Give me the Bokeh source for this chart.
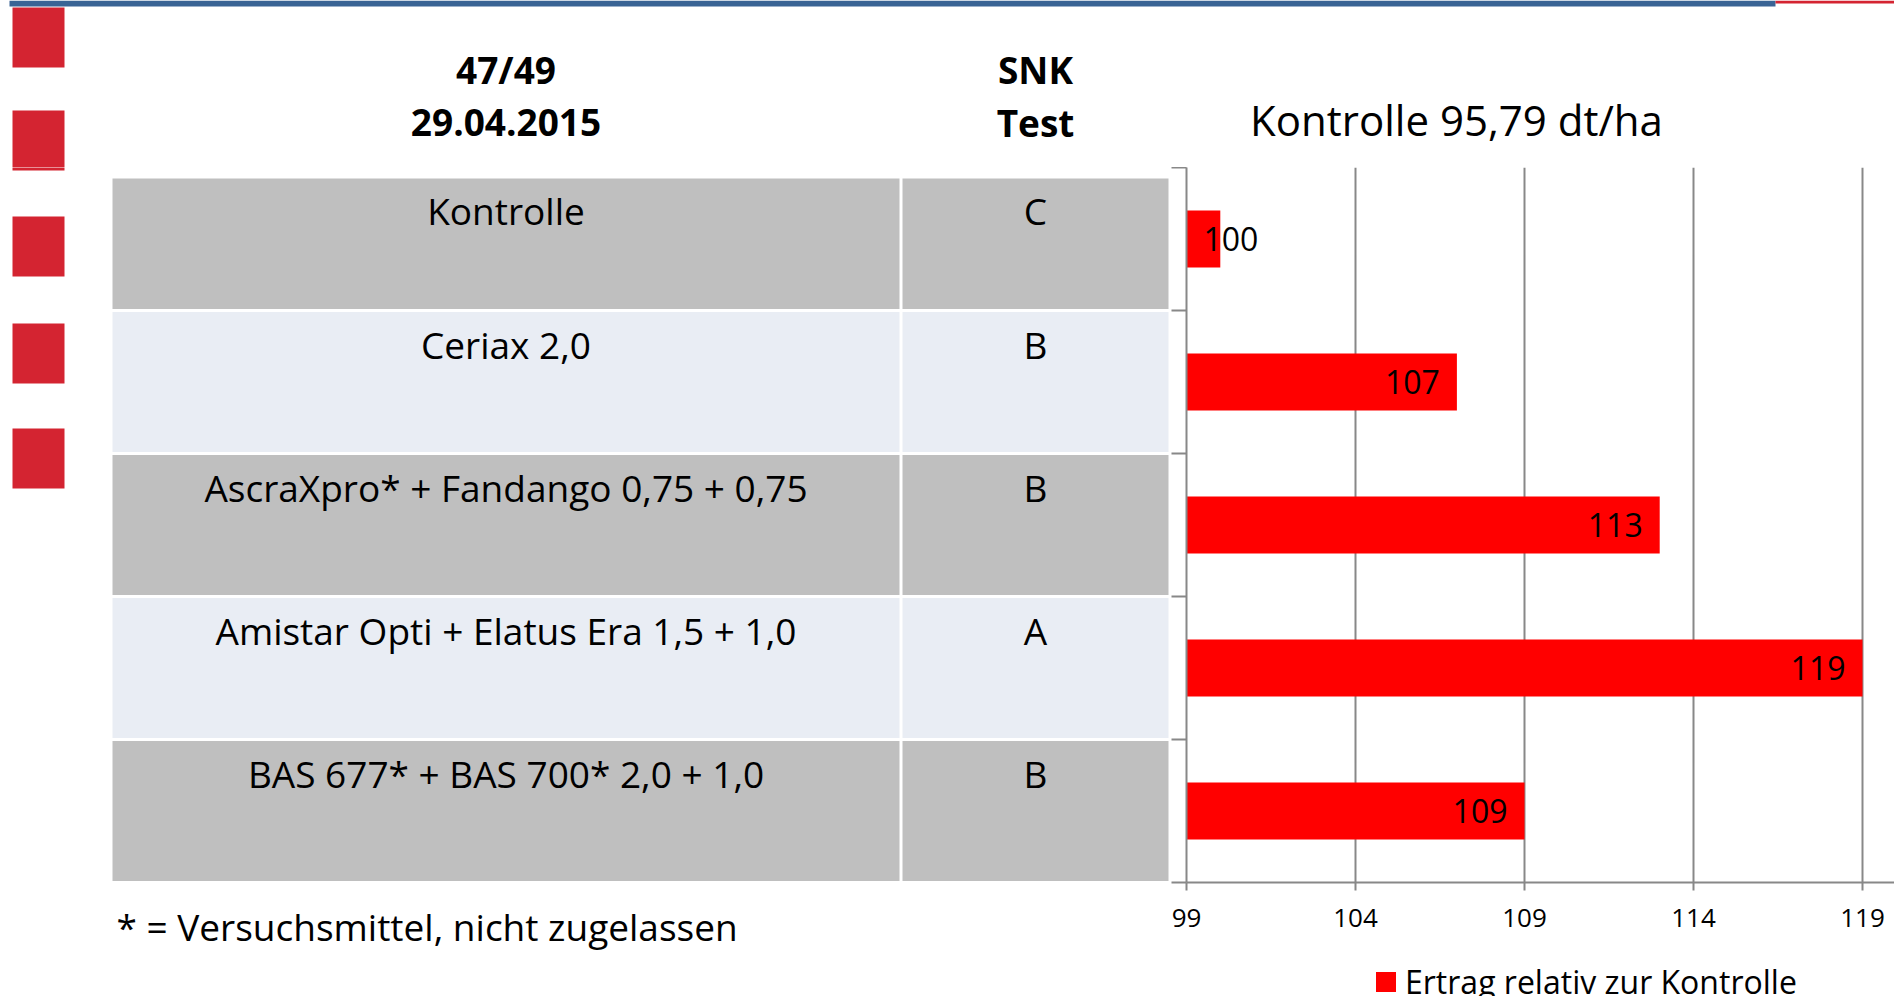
from bokeh.plotting import figure
from bokeh.models import Range1d, FixedTicker, Legend, LegendItem, Title
from bokeh.layouts import column, row
from bokeh.embed import file_html
from bokeh.resources import INLINE
from bokeh.core.properties import value

# ---------------- data ----------------
treatments = [
    "Kontrolle",
    "Ceriax 2,0",
    "AscraXpro* + Fandango 0,75 + 0,75",
    "Amistar Opti + Elatus Era 1,5 + 1,0",
    "BAS 677* + BAS 700* 2,0 + 1,0",
]
snk_groups = ["C", "B", "B", "A", "B"]
relative_yield = [100, 107, 113, 119, 109]
x_ticks = [99, 104, 109, 114, 119]
x_min = 99
header_trial = ["47/49", "29.04.2015"]
header_snk = ["SNK", "Test"]
chart_title = "Kontrolle 95,79 dt/ha"
legend_label = "Ertrag relativ zur Kontrolle"
footnote = "* = Versuchsmittel, nicht zugelassen"

# ---------------- layout / style ----------------
FONT = value("Open Sans")
PAGE_W, PAGE_H = 1894, 996
HEADER_BOTTOM = 167
ROW_BOTTOM = 968
SPLIT_X = 1170
FRAME_LEFT = 1186
FRAME_BOTTOM = 882
PX_PER_UNIT = 33.8
x_max = x_min + (PAGE_W - FRAME_LEFT) / PX_PER_UNIT
n = len(treatments)
BAND_H = (FRAME_BOTTOM - HEADER_BOTTOM) / n
BOTTOM_BORDER = ROW_BOTTOM - FRAME_BOTTOM

TABLE_TOP = 178
CELL_GAP = 3
COL1 = (112, 899)
COL2 = (902, 1168)
TEXT_DY = 32

GRAY = "#BFBFBF"
LIGHT = "#E9EDF4"
BLUE = "#3A6495"
SQ_RED = "#D42431"
BAR_RED = "#FF0000"
AXIS_GRAY = "#888888"

SQ_TOPS = [7, 110, 216, 323, 428]
SQ_H = 60


def blank_fig(w, h, xr, yr, bottom_border=0):
    f = figure(width=w, height=h, x_range=xr, y_range=yr, output_backend="svg",
               toolbar_location=None, x_axis_location=None, y_axis_location=None,
               min_border=0, outline_line_color=None, title=None)
    f.min_border_bottom = bottom_border
    f.grid.visible = False
    f.background_fill_color = "white"
    f.border_fill_color = "white"
    return f


def draw_squares(f):
    f.quad(left=12, right=64, top=SQ_TOPS, bottom=[t + SQ_H for t in SQ_TOPS],
           fill_color=SQ_RED, line_color=None)


# ---------------- header ----------------
hdr = blank_fig(PAGE_W, HEADER_BOTTOM, Range1d(0, PAGE_W), Range1d(HEADER_BOTTOM, 0))
draw_squares(hdr)
hdr.quad(left=9, right=1775, top=0, bottom=6, fill_color=BLUE, line_color=None)
hdr.quad(left=1775, right=PAGE_W, top=0, bottom=3, fill_color=SQ_RED, line_color=None)
hdr.text(x=[(COL1[0] + COL1[1]) / 2] * 2, y=[69, 122], text=header_trial,
         text_font=FONT, text_font_style="bold", text_font_size="37px",
         text_align="center", text_baseline="middle", text_color="black")
hdr.text(x=[(COL2[0] + COL2[1]) / 2] * 2, y=[69, 122], text=header_snk,
         text_font=FONT, text_font_style="bold", text_font_size="37px",
         text_align="center", text_baseline="middle", text_color="black")
hdr.text(x=[1456], y=[119], text=[chart_title], text_font=FONT, text_font_size="42px",
         text_align="center", text_baseline="middle", text_color="black")

# ---------------- table ----------------
tbl = blank_fig(SPLIT_X, ROW_BOTTOM - HEADER_BOTTOM, Range1d(0, SPLIT_X),
                Range1d(FRAME_BOTTOM, HEADER_BOTTOM), bottom_border=BOTTOM_BORDER)
draw_squares(tbl)
band_tops = [HEADER_BOTTOM + i * BAND_H for i in range(n)]
cell_tops = [max(t + CELL_GAP / 2, TABLE_TOP) for t in band_tops]
cell_bottoms = [t + BAND_H - CELL_GAP / 2 for t in band_tops]
fills = [GRAY if i % 2 == 0 else LIGHT for i in range(n)]
for c in (COL1, COL2):
    tbl.quad(left=c[0], right=c[1], top=cell_tops, bottom=cell_bottoms,
             fill_color=fills, line_color=None)
tbl.text(x=[(COL1[0] + COL1[1]) / 2] * n, y=[t + TEXT_DY for t in cell_tops], text=treatments,
         text_font=FONT, text_font_size="37px", text_align="center",
         text_baseline="middle", text_color="black")
tbl.text(x=[(COL2[0] + COL2[1]) / 2] * n, y=[t + TEXT_DY for t in cell_tops], text=snk_groups,
         text_font=FONT, text_font_size="37px", text_align="center",
         text_baseline="middle", text_color="black")
tbl.add_layout(Title(text=footnote, align="left", offset=116, standoff=32,
                     text_font="Open Sans", text_font_size="37px",
                     text_font_style="normal", text_color="black"), "below")

# ---------------- bar chart ----------------
chart = figure(width=PAGE_W - SPLIT_X, height=ROW_BOTTOM - HEADER_BOTTOM,
               x_range=Range1d(x_min, x_max), y_range=Range1d(n, 0),
               output_backend="svg", toolbar_location=None, title=None,
               min_border_left=FRAME_LEFT - SPLIT_X, min_border_right=0,
               min_border_top=0, min_border_bottom=BOTTOM_BORDER,
               outline_line_color=None)
chart.background_fill_color = "white"
chart.border_fill_color = "white"

ypos = [i + 0.5 for i in range(n)]
bars = chart.hbar(y=ypos, left=x_min, right=relative_yield, height=0.4,
                  fill_color=BAR_RED, line_color=None)

inside = [v - x_min >= 3 for v in relative_yield]
chart.text(x=[v for v, k in zip(relative_yield, inside) if k],
           y=[y for y, k in zip(ypos, inside) if k],
           text=[str(v) for v, k in zip(relative_yield, inside) if k],
           x_offset=-17, text_align="right", text_baseline="middle",
           text_font=FONT, text_font_size="32px", text_color="black")
chart.text(x=[x_min for k in inside if not k],
           y=[y for y, k in zip(ypos, inside) if not k],
           text=[str(v) for v, k in zip(relative_yield, inside) if not k],
           x_offset=17, text_align="left", text_baseline="middle",
           text_font=FONT, text_font_size="32px", text_color="black")

xa = chart.xaxis[0]
xa.ticker = FixedTicker(ticks=x_ticks)
xa.minor_tick_line_color = None
xa.major_tick_out = 8
xa.major_tick_in = 0
xa.axis_line_color = AXIS_GRAY
xa.axis_line_width = 2
xa.major_tick_line_color = AXIS_GRAY
xa.major_tick_line_width = 2
xa.major_label_text_font = "Open Sans"
xa.major_label_text_font_size = "26px"
xa.major_label_text_color = "black"
xa.major_label_standoff = 18

ya = chart.yaxis[0]
ya.ticker = FixedTicker(ticks=list(range(n + 1)))
ya.major_label_overrides = {i: "" for i in range(n + 1)}
ya.major_label_standoff = 0
ya.minor_tick_line_color = None
ya.major_tick_out = 15
ya.major_tick_in = 0
ya.axis_line_color = AXIS_GRAY
ya.axis_line_width = 2
ya.major_tick_line_color = AXIS_GRAY
ya.major_tick_line_width = 2

chart.xgrid.ticker = FixedTicker(ticks=x_ticks)
chart.xgrid.grid_line_color = AXIS_GRAY
chart.xgrid.grid_line_width = 2
chart.ygrid.grid_line_color = None

# ---------------- footer with legend ----------------
# the footer repeats the same series (outside its visible range) only to
# provide the legend swatch
foot = blank_fig(PAGE_W, PAGE_H - ROW_BOTTOM, Range1d(0, 1), Range1d(0, 1))
legend_swatch = foot.hbar(y=ypos, left=x_min, right=relative_yield, height=0.4,
                          fill_color=BAR_RED, line_color=None)
legend = Legend(items=[LegendItem(label=value(legend_label), renderers=[legend_swatch])],
                location=(1373, -7), orientation="horizontal",
                label_text_font="Open Sans", label_text_font_size="32px",
                label_text_color="black", glyph_width=25, glyph_height=25,
                label_standoff=7, padding=0, margin=0, border_line_color=None,
                background_fill_alpha=0)
foot.add_layout(legend)

layout = column(hdr, row(tbl, chart), foot)
open("out.html", "w").write(file_html(layout, INLINE))
